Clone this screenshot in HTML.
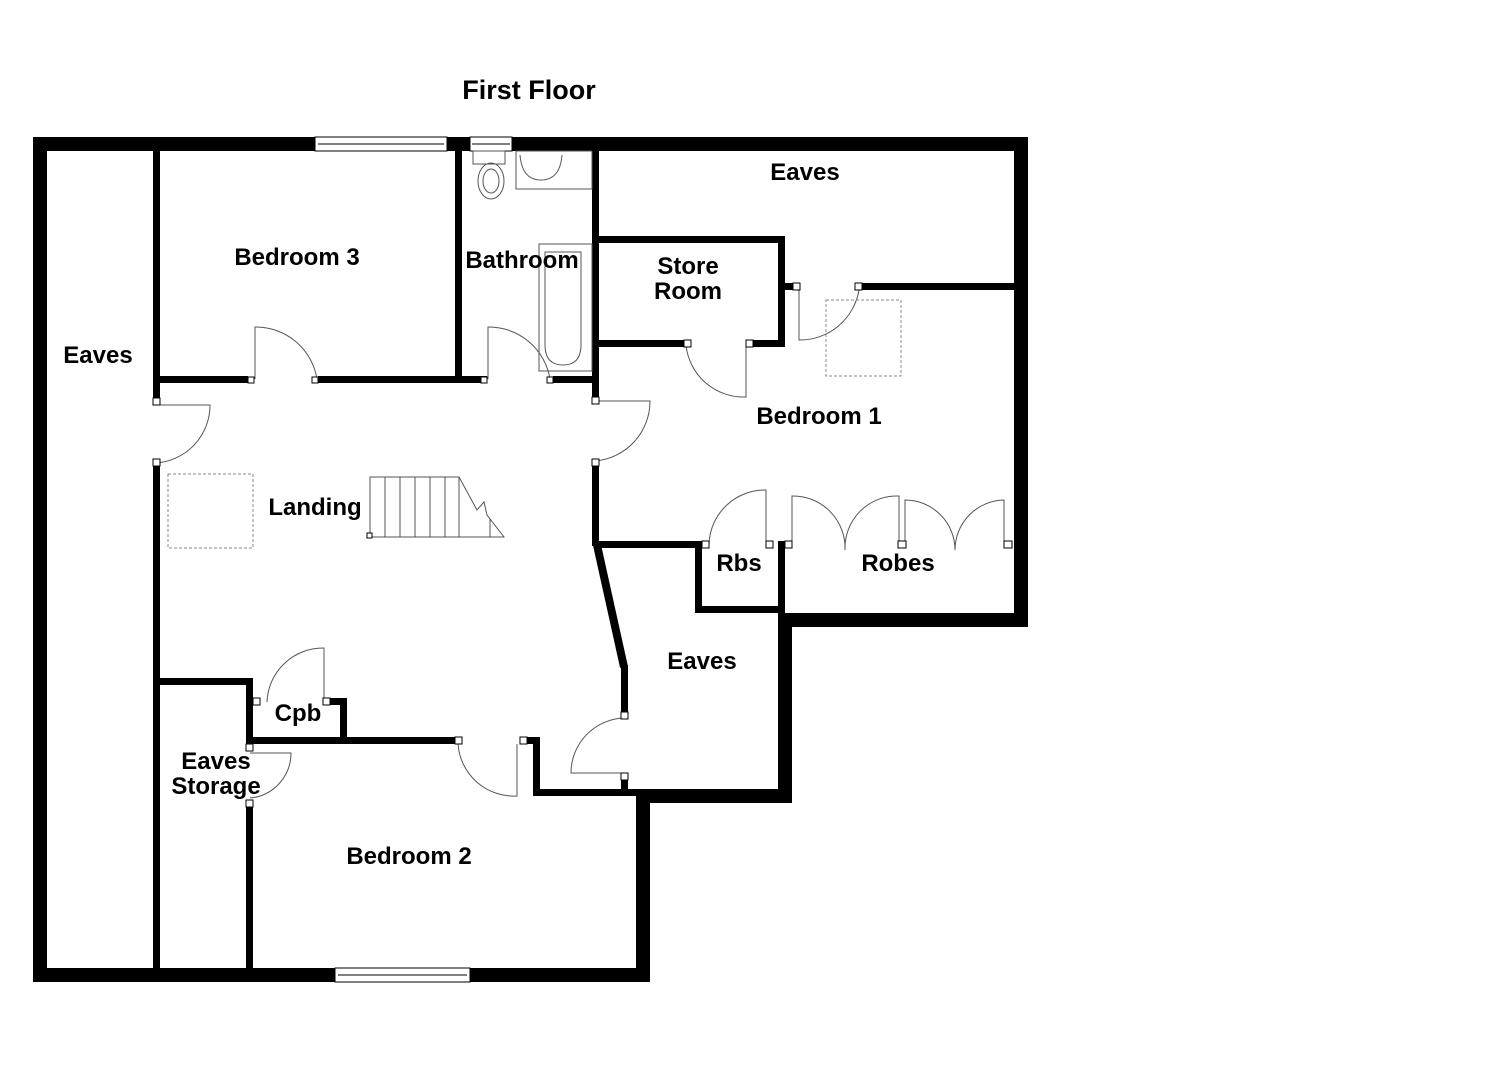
<!DOCTYPE html>
<html><head><meta charset="utf-8"><style>
html,body{margin:0;padding:0;background:#fff;}
svg{display:block;}
text{font-family:"Liberation Sans",sans-serif;font-weight:bold;font-size:24px;fill:#000;text-anchor:middle;}
</style></head><body>
<svg width="1485" height="1080" viewBox="0 0 1485 1080" xmlns="http://www.w3.org/2000/svg">
<text x="529" y="99" style="font-size:27px">First Floor</text>
<g fill="#000">
<rect x="33" y="137" width="995" height="14"/>
<rect x="33" y="137" width="14" height="845"/>
<rect x="1014" y="137" width="14" height="490"/>
<rect x="778" y="613" width="250" height="14"/>
<rect x="778" y="613" width="14" height="190"/>
<rect x="636" y="789" width="156" height="14"/>
<rect x="636" y="789" width="14" height="193"/>
<rect x="33" y="968" width="617" height="14"/>
<rect x="153" y="151" width="7" height="247"/>
<rect x="153" y="466" width="7" height="502"/>
<rect x="153" y="376" width="95" height="7"/>
<rect x="318" y="376" width="169" height="7"/>
<rect x="553" y="376" width="44" height="7"/>
<rect x="455" y="151" width="7" height="232"/>
<rect x="592" y="151" width="7" height="246"/>
<rect x="592" y="466" width="7" height="80"/>
<rect x="599" y="236" width="186" height="7"/>
<rect x="778" y="236" width="7" height="111"/>
<rect x="599" y="340" width="85" height="7"/>
<rect x="753" y="340" width="32" height="7"/>
<rect x="785" y="283" width="8" height="7"/>
<rect x="862" y="283" width="152" height="7"/>
<rect x="595" y="541" width="107" height="7"/>
<rect x="695" y="541" width="7" height="72"/>
<rect x="695" y="606" width="90" height="7"/>
<rect x="778" y="541" width="7" height="72"/>
<rect x="621" y="665" width="7" height="47"/>
<rect x="621" y="775" width="7" height="20"/>
<rect x="160" y="678" width="93" height="7"/>
<rect x="340" y="698" width="7" height="46"/>
<rect x="330" y="698" width="17" height="7"/>
<rect x="246" y="737" width="209" height="7"/>
<rect x="527" y="737" width="13" height="7"/>
<rect x="533" y="737" width="7" height="59"/>
<rect x="533" y="789" width="103" height="7"/>
<rect x="246" y="678" width="7" height="72"/>
<rect x="246" y="800" width="7" height="168"/>
</g>
<line x1="597" y1="545" x2="624" y2="667" stroke="#000" stroke-width="8"/>
<g fill="#fff" stroke="#000" stroke-width="1">
<rect x="315" y="137" width="132" height="14"/><line x1="318" y1="144" x2="444" y2="144"/>
<rect x="470" y="137" width="42" height="14"/><line x1="472" y1="144" x2="510" y2="144"/>
<rect x="335" y="968" width="135" height="14"/><line x1="338" y1="975" x2="467" y2="975"/>
</g>
<g fill="none" stroke="#555" stroke-width="1">
<rect x="473" y="151" width="32" height="13"/>
<ellipse cx="491" cy="181" rx="13" ry="18"/><ellipse cx="491" cy="181" rx="8" ry="12"/>
<rect x="516" y="151" width="76" height="38"/>
<path d="M520 155 Q522 180 541 180 Q560 180 562 155"/>
<rect x="539" y="244" width="53" height="127"/>
<path d="M545 252 L581 252 L581 345 Q581 365 563 365 Q545 365 545 345 Z"/>
<path d="M255 379 L255 327 A62 62 0 0 1 317 379"/>
<path d="M488 379 L488 327 A62 62 0 0 1 550 379"/>
<path d="M156 405 L210 405 A58 58 0 0 1 156 463"/>
<path d="M595 401 L650 401 A60 60 0 0 1 595 461"/>
<path d="M686 345 A58 58 0 0 0 746 397 L746 345"/>
<path d="M799 290 L799 340 A60 60 0 0 0 859 290"/>
<path d="M709 544 A56 56 0 0 1 766 490 L766 544"/>
<path d="M792 544 L792 496 A52 52 0 0 1 845 550"/>
<path d="M845 550 A52 52 0 0 1 899 496 L899 544"/>
<path d="M905 544 L905 500 A50 50 0 0 1 955 550"/>
<path d="M955 550 A50 50 0 0 1 1004 500 L1004 544"/>
<path d="M267 702 A56 56 0 0 1 324 648 L324 702"/>
<path d="M458 744 A56 56 0 0 0 517 796 L517 744"/>
<path d="M624 718 A55 55 0 0 0 571 773 L624 773"/>
<path d="M250 753 L291 753 A45 45 0 0 1 250 798"/>
</g>
<g fill="none" stroke="#888" stroke-width="1" stroke-dasharray="3,2">
<rect x="826" y="300" width="75" height="76"/>
<rect x="168" y="474" width="85" height="74"/>
</g>
<g fill="none" stroke="#555" stroke-width="1">
<path d="M370 477 L459 477 L477 510 L484 502 L487 515 L504 537 L370 537 Z"/>
<line x1="385" y1="477" x2="385" y2="537"/><line x1="400" y1="477" x2="400" y2="537"/>
<line x1="415" y1="477" x2="415" y2="537"/><line x1="430" y1="477" x2="430" y2="537"/>
<line x1="445" y1="477" x2="445" y2="537"/><line x1="459" y1="477" x2="459" y2="537"/>
<line x1="490" y1="519" x2="490" y2="537"/>
</g>
<g fill="#fff" stroke="#000" stroke-width="1">
<rect x="248" y="377" width="6" height="6"/><rect x="312" y="377" width="6" height="6"/>
<rect x="481" y="377" width="6" height="6"/><rect x="547" y="377" width="6" height="6"/>
<rect x="153" y="398" width="7" height="7"/><rect x="153" y="459" width="7" height="7"/>
<rect x="592" y="397" width="7" height="7"/><rect x="592" y="459" width="7" height="7"/>
<rect x="684" y="340" width="7" height="7"/><rect x="746" y="340" width="7" height="7"/>
<rect x="793" y="283" width="7" height="7"/><rect x="855" y="283" width="7" height="7"/>
<rect x="702" y="541" width="7" height="7"/><rect x="766" y="541" width="7" height="7"/>
<rect x="785" y="541" width="7" height="7"/><rect x="898" y="541" width="8" height="7"/>
<rect x="1004" y="541" width="8" height="7"/>
<rect x="253" y="698" width="7" height="7"/><rect x="323" y="698" width="7" height="7"/>
<rect x="455" y="737" width="7" height="7"/><rect x="520" y="737" width="7" height="7"/>
<rect x="621" y="712" width="7" height="7"/><rect x="621" y="773" width="7" height="7"/>
<rect x="246" y="744" width="7" height="7"/><rect x="246" y="800" width="7" height="7"/>
<rect x="367" y="533" width="5" height="5"/>
</g>
<text x="297" y="265">Bedroom 3</text>
<text x="522" y="268">Bathroom</text>
<text x="805" y="180">Eaves</text>
<text x="688" y="274">Store</text>
<text x="688" y="299">Room</text>
<text x="98" y="363">Eaves</text>
<text x="819" y="424">Bedroom 1</text>
<text x="315" y="515">Landing</text>
<text x="739" y="571">Rbs</text>
<text x="898" y="571">Robes</text>
<text x="702" y="669">Eaves</text>
<text x="298" y="721">Cpb</text>
<text x="216" y="769">Eaves</text>
<text x="216" y="794">Storage</text>
<text x="409" y="864">Bedroom 2</text>
</svg>
</body></html>
